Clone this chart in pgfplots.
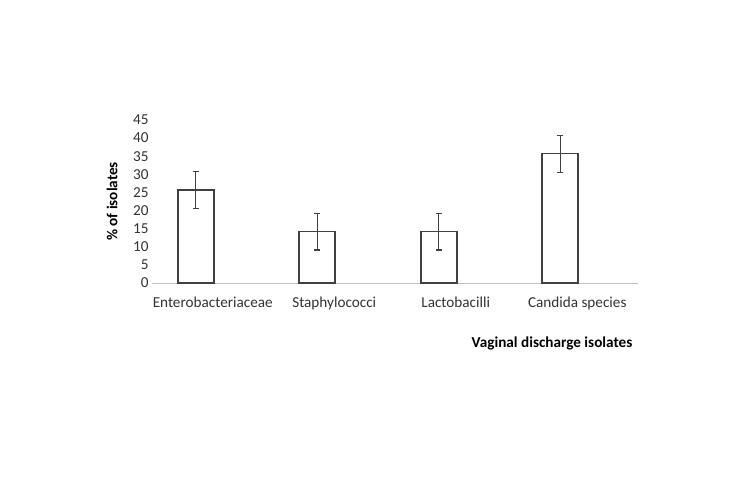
\documentclass[border=0pt]{standalone}
\usepackage{pgfplots}
\pgfplotsset{compat=1.18}
\usepackage{fontspec}
\setmainfont{Carlito}
\begin{document}
\begin{tikzpicture}[x=1bp,y=1bp]
\path[use as bounding box, fill=white] (0,0) rectangle (750,499);
\begin{axis}[
  at={(152bp,216bp)}, anchor=south west,
  scale only axis, width=486bp, height=163bp,
  xmin=-0.5, xmax=3.5, ymin=0, ymax=45,
  ytick={0,5,...,45},
  xtick={0,1,2,3},
  xticklabels={Enterobacteriaceae,Staphylococci,Lactobacilli,Candida species},
  axis lines*=left,
  x axis line style={draw=black!25, line width=0.8bp, -},
  y axis line style={draw=none},
  major tick length=0pt,
  tick style={draw=none},
  font=\fontsize{15.2bp}{18bp}\selectfont,
  ticklabel style={text=black!80},
  /pgf/number format/assume math mode=true,
  ylabel={\textbf{\% of isolates}},
  ylabel style={at={(axis description cs:-0.082,0.5)}, anchor=center},
  xlabel={\textbf{Vaginal discharge isolates}},
  xlabel style={at={(axis description cs:0.823,-0.368)}, anchor=center},
  xticklabel style={yshift=-10bp},
  clip=false,
]
\addplot[ybar, bar width=0.296, fill=white, draw=black!75, line width=1.6bp,
  error bars/.cd, y dir=both, y explicit,
  error bar style={draw=black!75, line width=1.1bp},
  error mark options={rotate=90, mark size=3bp, line width=1.1bp, draw=black!75}]
  coordinates {
  (-0.14,25.7) +- (0,5.1)
  (0.86,14.2) +- (0,5.1)
  (1.86,14.2) +- (0,5.1)
  (2.86,35.7) +- (0,5.1)
};
\end{axis}
\end{tikzpicture}
\end{document}
